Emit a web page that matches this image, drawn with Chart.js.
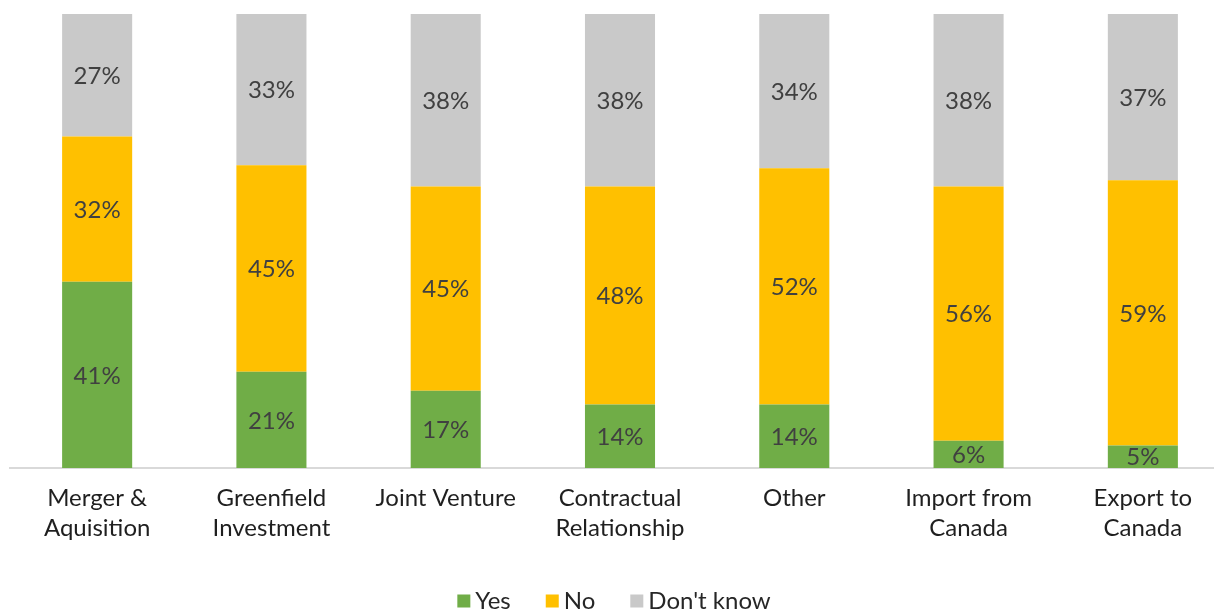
<!DOCTYPE html>
<html>
<head>
<meta charset="utf-8">
<title>Investment modes</title>
<script src="https://cdn.jsdelivr.net/npm/chart.js@4/dist/chart.umd.min.js"></script>
<style>
  html, body { margin: 0; padding: 0; background: #ffffff; overflow: hidden; }
  #wrap { position: relative; width: 1240px; height: 614px; }
</style>
</head>
<body>
<div id="wrap"><canvas id="chart"></canvas></div>
<script>
// Survey answers per mode of engagement (percent of respondents)
const categories = [
  ['Merger &', 'Aquisition'],
  ['Greenfield', 'Investment'],
  ['Joint Venture'],
  ['Contractual', 'Relationship'],
  ['Other'],
  ['Import from', 'Canada'],
  ['Export to', 'Canada']
];
const seriesNames = ['Yes', 'No', "Don't know"];
const yesValues = [41, 21, 17, 14, 14, 6, 5];
const noValues = [32, 45, 45, 48, 52, 56, 59];
const dontKnowValues = [27, 33, 38, 38, 34, 38, 37];

const seriesColors = ['#70AD47', '#FFC000', '#C9C9C9'];
const FONT = 'Lato, "DejaVu Sans", sans-serif';

// 100% stacked: each column is scaled to the sum of its three answers
const seriesValues = [yesValues, noValues, dontKnowValues];
const totals = categories.map((_, i) => seriesValues.reduce((s, arr) => s + arr[i], 0));
const toShare = arr => arr.map((v, i) => v / totals[i] * 100);

const datasets = seriesValues.map((arr, k) => ({
  label: seriesNames[k],
  data: toShare(arr),
  labelValues: arr,
  backgroundColor: seriesColors[k],
  borderWidth: 0,
  barPercentage: 0.402,
  categoryPercentage: 1.0
}));

// Percent labels centred in each segment
const segmentLabels = {
  id: 'segmentLabels',
  afterDatasetsDraw(chart) {
    const ctx = chart.ctx;
    ctx.save();
    ctx.font = '24px ' + FONT;
    ctx.fillStyle = '#404040';
    ctx.textAlign = 'center';
    ctx.textBaseline = 'middle';
    chart.data.datasets.forEach((ds, di) => {
      const meta = chart.getDatasetMeta(di);
      meta.data.forEach((bar, i) => {
        const p = bar.getProps(['x', 'y', 'base'], true);
        ctx.fillText(ds.labelValues[i] + '%', p.x, (p.y + p.base) / 2 + 1);
      });
    });
    ctx.restore();
  }
};

// Legend row under the axis labels
const bottomLegend = {
  id: 'bottomLegend',
  afterDraw(chart, args, opts) {
    const ctx = chart.ctx;
    ctx.save();
    ctx.font = opts.fontSize + 'px ' + FONT;
    const items = chart.data.datasets.map(ds => ({
      text: ds.label, color: ds.backgroundColor, w: ctx.measureText(ds.label).width
    }));
    const itemW = it => opts.box + opts.boxGap + it.w;
    const total = items.reduce((s, it) => s + itemW(it), 0) + opts.gap * (items.length - 1);
    let x = opts.centerX - total / 2;
    ctx.textBaseline = 'middle';
    ctx.textAlign = 'left';
    items.forEach(it => {
      ctx.fillStyle = it.color;
      ctx.fillRect(x, opts.y - opts.box / 2, opts.box, opts.box);
      ctx.fillStyle = '#262626';
      ctx.fillText(it.text, x + opts.box + opts.boxGap, opts.y);
      x += itemW(it) + opts.gap;
    });
    ctx.restore();
  }
};

new Chart(document.getElementById('chart'), {
  type: 'bar',
  data: { labels: categories, datasets },
  plugins: [segmentLabels, bottomLegend],
  options: {
    responsive: true,
    maintainAspectRatio: false,
    animation: false,
    layout: { padding: { top: 14, left: 10, right: 10, bottom: 0 } },
    plugins: {
      legend: { display: false },
      tooltip: { enabled: false },
      bottomLegend: { centerX: 614, y: 601, box: 13, boxGap: 5, gap: 35, fontSize: 24 }
    },
    scales: {
      x: {
        stacked: true,
        grid: { display: false, drawTicks: false },
        border: { display: true, color: '#D9D9D9', width: 2 },
        ticks: {
          color: '#1f1f1f',
          padding: 15,
          maxRotation: 0,
          autoSkip: false,
          font: { family: FONT, size: 24, lineHeight: 1.25 }
        },
        afterFit(scale) { scale.height = 146; }
      },
      y: {
        stacked: true,
        display: false,
        min: 0,
        max: 100
      }
    }
  }
});
</script>
</body>
</html>
